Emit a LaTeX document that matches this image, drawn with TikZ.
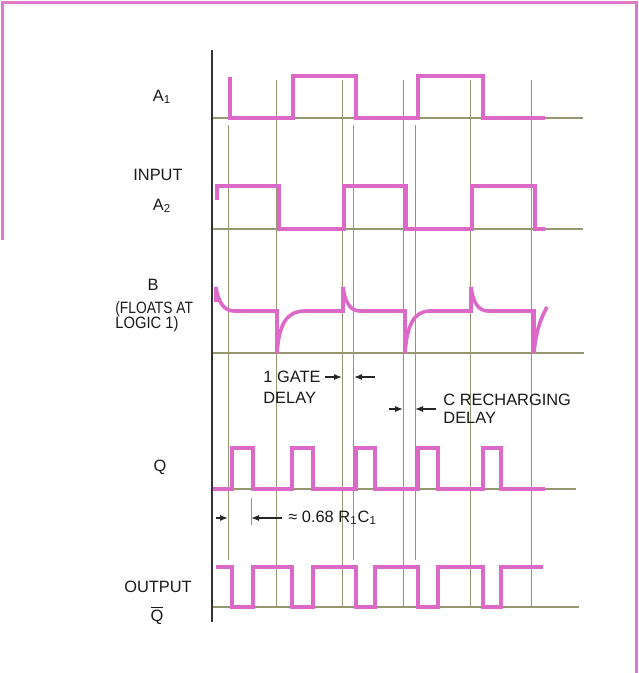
\documentclass[tikz,border=0pt]{standalone}
\usepackage{fontspec}
\setmainfont{Liberation Sans}
\usepackage{xcolor}
\usetikzlibrary{arrows.meta}

\definecolor{sigpink}{RGB}{220,105,200}
\definecolor{gridol}{RGB}{150,150,112}
\definecolor{framepink}{RGB}{222,122,205}
\newcommand{\qbar}{$\overline{\mbox{Q}}$}

\begin{document}
\begin{tikzpicture}[
  x=0.5pt, y=-0.5pt,
  every node/.style={font=\fontsize{8.2}{10}\selectfont, text=black!90, inner sep=0pt},
  sig/.style={draw=sigpink, line width=1.8pt, line join=miter},
  gridln/.style={draw=gridol, line width=0.5pt},
  base/.style={draw=gridol, line width=0.8pt},
  dimarr/.style={-{Latex[length=4pt,width=3pt]}, line width=0.6pt, black!85},
  frame/.style={draw=framepink, line width=1.5pt},
]
\useasboundingbox (0,0) rectangle (638,673);
\draw[frame] (2,240) -- (2,3) -- (636,3) -- (636,673);

% grid and base lines
\foreach \gx in {276,342,403,470,531} \draw[gridln] (\gx,80) -- (\gx,607);
\foreach \gx in {228,353,415} \draw[gridln] (\gx,125) -- (\gx,560);
\draw[gridln] (251,498) -- (251,525);
\foreach \by/\bend in {118/583,229/583,353/584,489/576,607/579} \draw[base] (212,\by) -- (\bend,\by);
\draw[black!80, line width=1pt] (212,50) -- (212,622);

% signals
\draw[sig] (230,77) -- (230,118) -- (293,118) -- (293,76) -- (356,76) -- (356,118)
  -- (418,118) -- (418,76) -- (483,76) -- (483,118) -- (545,118);
\draw[sig] (217,200) -- (217,186) -- (279,186) -- (279,229) -- (344,229) -- (344,186)
  -- (406,186) -- (406,229) -- (472,229) -- (472,186) -- (535,186) -- (535,229) -- (545,229);
\draw[sig] (216,302) -- (216,287) .. controls (218,302) and (224,311) .. (234,311)
  -- (277,311) -- (277,353) .. controls (279,325) and (286,311) .. (305,311)
  -- (343,311) -- (343,287) .. controls (345,302) and (350,311) .. (360,311)
  -- (405,311) -- (405,353) .. controls (407,325) and (414,311) .. (430,311)
  -- (471,311) -- (471,287) .. controls (473,302) and (478,311) .. (488,311)
  -- (534,311) -- (534,353) .. controls (536,330) and (541,318) .. (547,307);
\draw[sig] (213,489) \foreach \up/\dn in {232/253,292/313,356/375,418/438,483/501} {
  -- (\up,489) -- (\up,448) -- (\dn,448) -- (\dn,489) } -- (545,489);
\draw[sig] (216,567) \foreach \dn/\up in {232/253,292/313,356/375,418/438,483/501} {
  -- (\dn,567) -- (\dn,607) -- (\up,607) -- (\up,567) } -- (543,567);

% labels
\node (lA1) at (162,97) {A\textsubscript{1}};
\node (lInput) at (158,175) {INPUT};
\node (lA2) at (162,206) {A\textsubscript{2}};
\node (lB) at (153,285) {B};
\node[anchor=west] (lFloat) at (115,309) {\scalebox{0.84}[1]{(FLOATS AT}};
\node[anchor=west] (lLogic) at (115,324) {\scalebox{0.9}[1]{LOGIC 1)}};
\node (lQ) at (160,467) {Q};
\node (lOut) at (158,587) {OUTPUT};
\node (lQbar) at (157,615) {\qbar};

% delay marks
\node[anchor=west] (lGate) at (263,377) {1 GATE};
\node[anchor=west] (lGateD) at (263,397.5) {DELAY};
\draw[dimarr] (325,377) -- (342,377);
\draw[dimarr] (375,377) -- (354,377);
\node[anchor=west] (lRech) at (443,399.5) {C RECHARGING};
\node[anchor=west] (lRechD) at (443,418) {DELAY};
\draw[dimarr] (389,409) -- (403,409);
\draw[dimarr] (436,409) -- (415,409);
\draw[dimarr] (216,518) -- (228,518);
\draw[dimarr] (282,518) -- (251,518);
\node[anchor=west] (lRC) at (288,518) {≈ 0.68 R\textsubscript{1}C\textsubscript{1}};
\end{tikzpicture}
\end{document}
